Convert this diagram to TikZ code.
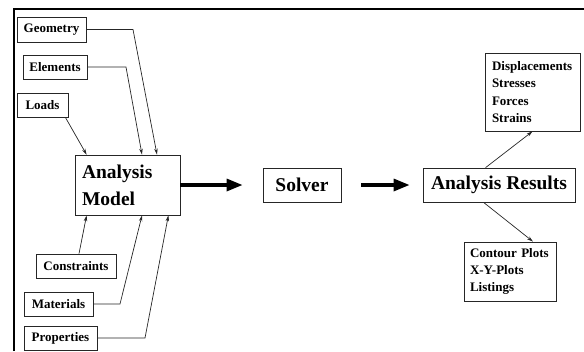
\documentclass[tikz,border=0pt]{standalone}
\usepackage{fontspec}
\setmainfont{Liberation Serif}
\usetikzlibrary{arrows.meta}

\begin{document}
\begin{tikzpicture}[x=1pt, y=-1pt, every node/.style={font=\bfseries\fontsize{13}{17.3}\selectfont, align=center, inner sep=0pt}, item/.style={rectangle, draw=black!85, line width=0.8pt, minimum height=24pt}, bigitem/.style={rectangle, draw=black!85, line width=0.8pt, font=\bfseries\fontsize{19.5}{27}\selectfont}, listbox/.style={rectangle, draw=black!85, line width=0.8pt, align=left}, feed/.style={draw=black!85, line width=0.7pt, -{Stealth[length=6pt,width=3.5pt]}}, flow/.style={draw=black, line width=3.2pt, -{Triangle[length=16pt,width=12pt]}}]
\useasboundingbox (0,0) rectangle (584,351);
% frame of the page
\draw[line width=2pt] (14,351) -- (14,8.5) -- (584,8.5);
% input items
\node[item, minimum width=69pt, minimum height=25pt] (geom) at (51.5,29.5) {Geometry};
\node[item, minimum width=64pt] (elem) at (55,67) {Elements};
\node[item, minimum width=51pt] (loads) at (42.5,105) {Loads};
\node[item, minimum width=80pt] (cons) at (76,266) {Constraints};
\node[item, minimum width=69pt] (mat) at (58.5,304) {Materials};
\node[item, minimum width=73pt] (prop) at (60.5,338) {Properties};
% main chain
\node[bigitem, align=left, text width=91pt, inner xsep=7pt, minimum width=105pt, minimum height=60pt] (model) at (127.5,185) {Analysis\\Model};
\node[bigitem, minimum width=78pt, minimum height=34pt] (solver) at (302,185) {Solver};
\node[bigitem, minimum width=152pt, minimum height=34pt] (results) at (499,185) {Analysis Results};
% outputs
\node[listbox, text width=81pt, inner xsep=7pt, minimum height=78pt] (fields) at (532.5,92) {Displacements\\Stresses\\Forces\\Strains};
\node[listbox, text width=80pt, inner xsep=6pt, minimum height=59pt] (plots) at (510,271.5) {Contour Plots\\X-Y-Plots\\Listings};
% feeds into the model
\coordinate (gbend) at (133,29.5);
\coordinate (ebend) at (126,67);
\coordinate (mbend) at (120,304);
\coordinate (pbend) at (145,338);
\draw[feed] (geom.east) -- (gbend) -- ([xshift=29.5pt]model.north);
\draw[feed] (elem.east) -- (ebend) -- ([xshift=14.5pt]model.north);
\draw[feed] ([xshift=-3pt]loads.south east) -- ([xshift=12pt]model.north west);
\draw[feed] ([xshift=3pt]cons.north) -- ([xshift=12pt]model.south west);
\draw[feed] (mat.east) -- (mbend) -- ([xshift=14.5pt]model.south);
\draw[feed] (prop.east) -- (pbend) -- ([xshift=-12pt]model.south east);
\draw[flow, shorten >=20pt] (model.east) -- (solver.west);
\draw[flow, shorten <=20pt, shorten >=13pt] (solver.east) -- (results.west);
\draw[feed] ([xshift=63pt]results.north west) -- (fields.south);
\draw[feed] ([xshift=61pt]results.south west) -- ([xshift=23pt]plots.north);
\end{tikzpicture}
\end{document}
